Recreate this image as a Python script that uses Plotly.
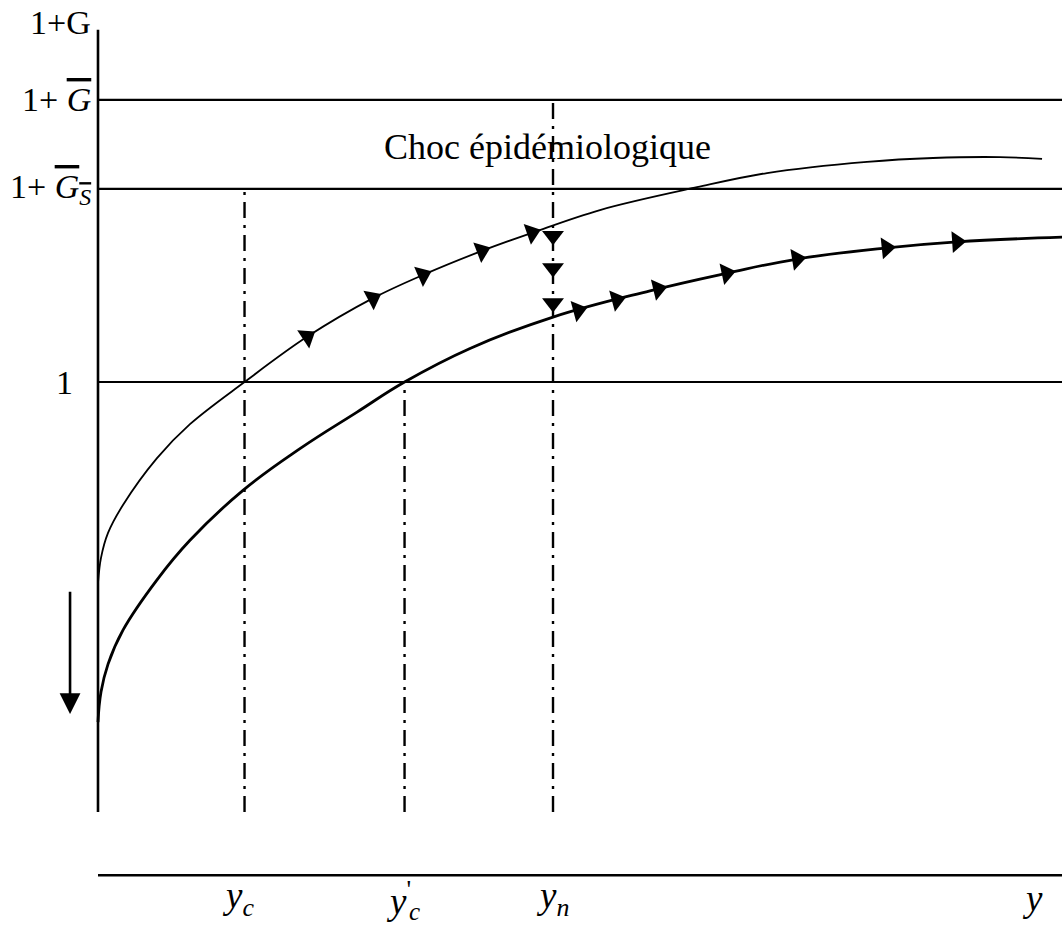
import numpy as np
import plotly.graph_objects as go

# ---- Data (schematic units: horizontal = income y, vertical = 1+G) ----
upper_x = [0.0, 0.031, 0.104, 0.259, 0.612, 0.954, 1.52, 2.168, 2.853, 3.371, 3.983, 4.502, 5.207, 6.214, 6.940, 7.977, 8.662, 9.357, 9.793]
upper_y = [0.533, 0.591, 0.649, 0.714, 0.823, 0.902, 1.0, 1.105, 1.195, 1.249, 1.305, 1.347, 1.400, 1.453, 1.486, 1.512, 1.521, 1.523, 1.519]

lower_x = [0.0, 0.031, 0.104, 0.259, 0.612, 0.954, 1.504, 2.095, 2.687, 3.18, 3.859, 4.720, 5.726, 6.525, 7.251, 8.185, 8.911, 10.0]
lower_y = [0.209, 0.279, 0.344, 0.423, 0.540, 0.632, 0.748, 0.845, 0.930, 1.0, 1.078, 1.151, 1.212, 1.253, 1.286, 1.312, 1.326, 1.337]

upper_arrow_x = [2.17, 2.85, 3.37, 3.98, 4.50]
lower_arrow_x = [4.98, 5.38, 5.81, 6.52, 7.25, 8.18, 8.91]
shock_arrow_y = [1.340, 1.265, 1.184]

level_G = 1.656     # 1 + G bar
level_GS = 1.449    # 1 + G_S bar
level_one = 1.0
x_end = 10.0
y_top = 1.819
x_axis_level = -0.147

y_c = 1.52
y_c_prime = 3.18
y_n = 4.72

# ---- Layout scale ----
X_RANGE = [-1.0166, 10.0]
Y_RANGE = [-0.2674, 1.8884]
W, H = 1062, 927
PX_X = W / (X_RANGE[1] - X_RANGE[0])
PX_Y = H / (Y_RANGE[1] - Y_RANGE[0])

FONT = "Liberation Serif"
fig = go.Figure()


def line(xs, ys, width=2.2, dash=None):
    fig.add_trace(go.Scatter(x=xs, y=ys, mode="lines", hoverinfo="skip",
                             line=dict(color="black", width=width, dash=dash),
                             showlegend=False))


# axes
line([0, 0], [0, y_top], width=2.6)
line([0, x_end], [x_axis_level, x_axis_level], width=2.6)
# horizontal levels
for lv in [level_G, level_GS, level_one]:
    line([0, x_end], [lv, lv], width=2.2)

# dash-dot verticals
dd = "16px,7px,3px,7px"
line([y_c, y_c], [0, level_GS], width=2.4, dash=dd)
line([y_c_prime, y_c_prime], [0, level_one], width=2.4, dash=dd)
line([y_n, y_n], [0, level_G], width=2.4, dash=dd)

# curves
fig.add_trace(go.Scatter(x=upper_x, y=upper_y, mode="lines", line=dict(color="black", width=1.8, shape="spline", smoothing=1.0),
                         showlegend=False, hoverinfo="skip"))
fig.add_trace(go.Scatter(x=lower_x, y=lower_y, mode="lines", line=dict(color="black", width=2.8, shape="spline", smoothing=1.2),
                         showlegend=False, hoverinfo="skip"))


def arrows_on(cx, cy, ax_list, size):
    cx = np.array(cx); cy = np.array(cy)
    ay = np.interp(ax_list, cx, cy)
    angles = []
    for a in ax_list:
        d = 0.15
        y1 = np.interp(a - d, cx, cy); y2 = np.interp(a + d, cx, cy)
        ang = np.degrees(np.arctan2((y2 - y1) * PX_Y, 2 * d * PX_X))
        angles.append(-ang)
    fig.add_trace(go.Scatter(x=ax_list, y=ay, mode="markers", hoverinfo="skip", showlegend=False,
                             marker=dict(symbol="triangle-right", size=size, color="black", angle=angles)))


arrows_on(upper_x, upper_y, upper_arrow_x, 19)
arrows_on(lower_x, lower_y, lower_arrow_x, 19)

fig.add_trace(go.Scatter(x=[y_n] * len(shock_arrow_y), y=shock_arrow_y, mode="markers", hoverinfo="skip", showlegend=False,
                         marker=dict(symbol="triangle-down", size=19, color="black")))

# big downward arrow
fig.add_annotation(x=-0.29, y=0.228, ax=-0.29, ay=0.516, axref="x", ayref="y", xref="x", yref="y",
                   showarrow=True, arrowhead=2, arrowsize=1.6, arrowwidth=2.6, arrowcolor="black", text="")

# labels
def label(x, y, text, size=30, xanchor="center", yanchor="middle"):
    fig.add_annotation(x=x, y=y, xref="x", yref="y", text=text, showarrow=False,
                       xanchor=xanchor, yanchor=yanchor, font=dict(family=FONT, size=size, color="black"))

label(-0.05, 1.835, "1+G", size=34, xanchor="right")
label(-0.05, level_G, '1+ <span style="text-decoration:overline"><i>G</i></span>', size=34, xanchor="right")
label(-0.05, level_GS, '1+ <span style="text-decoration:overline"><i>G<sub>S</sub></i></span>', size=34, xanchor="right")
label(-0.24, level_one, "1", size=34, xanchor="right")
label(4.66, 1.547, "Choc épidémiologique", size=36)

lab_y = -0.20
label(1.27, lab_y, "<i>y<sub>c</sub></i>", size=37, xanchor="left")
label(2.97, lab_y, "<i>y</i><sup>'</sup>", size=37, xanchor="left")
label(3.21, -0.232, "<i>c</i>", size=25, xanchor="left")
label(4.52, lab_y, "<i>y<sub>n</sub></i>", size=37, xanchor="left")
label(9.56, lab_y, "<i>y</i>", size=37, xanchor="left")

fig.update_layout(width=W, height=H, margin=dict(l=0, r=0, t=0, b=0),
                  paper_bgcolor="white", plot_bgcolor="white",
                  xaxis=dict(range=X_RANGE, visible=False, fixedrange=True),
                  yaxis=dict(range=Y_RANGE, visible=False, fixedrange=True))

fig.write_html("out.html", config={"displayModeBar": False},
               post_script="document.body.style.margin='0';")
